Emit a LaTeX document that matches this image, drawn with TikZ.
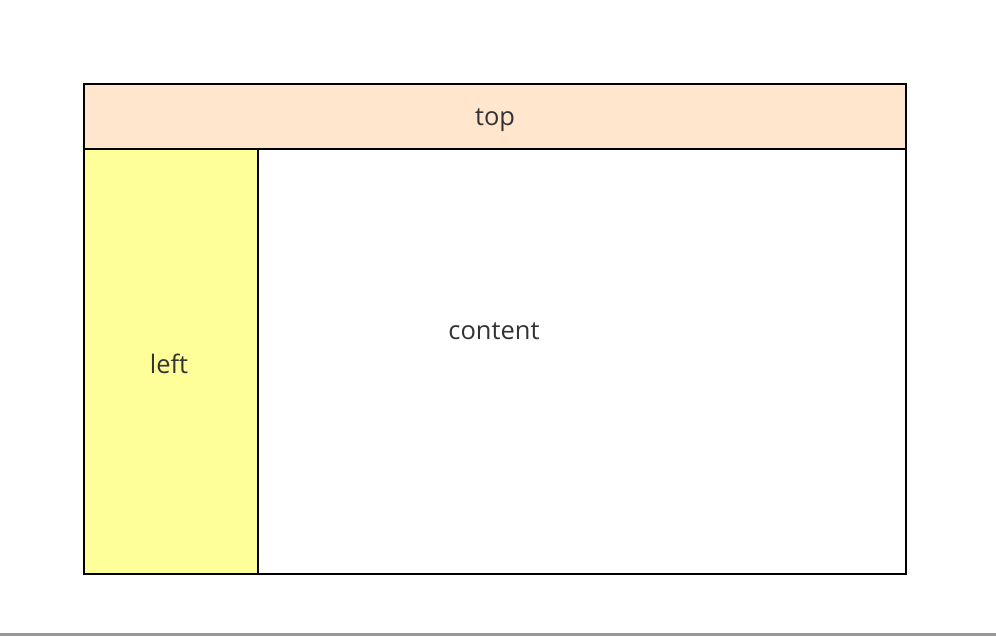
\documentclass[tikz,border=0pt]{standalone}
\usepackage{fontspec}
\setmainfont{Open Sans}
\usepackage{tikz}
\usetikzlibrary{calc}
\definecolor{topfill}{HTML}{FFE6CC}
\definecolor{leftfill}{HTML}{FFFF99}
\definecolor{txt}{HTML}{333333}
\tikzset{l/.style={font=\fontsize{14.5}{14.5}\selectfont,text=txt}}
\tikzset{box/.style={draw=black,line width=1.1pt,inner sep=0pt,outer sep=0pt}}

\begin{document}
\begin{tikzpicture}[x=0.02cm,y=-0.02cm]
          \useasboundingbox (0,0) rectangle (996,636);
          \fill[white] (0,0) rectangle (996,636);
          \fill[gray!80] (0,633) rectangle (996,636);
          \node[box,fill=topfill,minimum width=822*0.02cm,minimum height=65*0.02cm] (top) at (495,116.5) {};
          \node[box,fill=leftfill,minimum width=174*0.02cm,minimum height=425*0.02cm] (left) at (171,361.5) {};
          \node[box,fill=white,minimum width=648*0.02cm,minimum height=425*0.02cm] (content) at (582,361.5) {};
          \node[l] (toplabel) at (495,120) {top};
          \node[l] (leftlabel) at (169,364) {left};
          \node[l] (contentlabel) at (494,331) {content};
        \end{tikzpicture}
\end{document}
